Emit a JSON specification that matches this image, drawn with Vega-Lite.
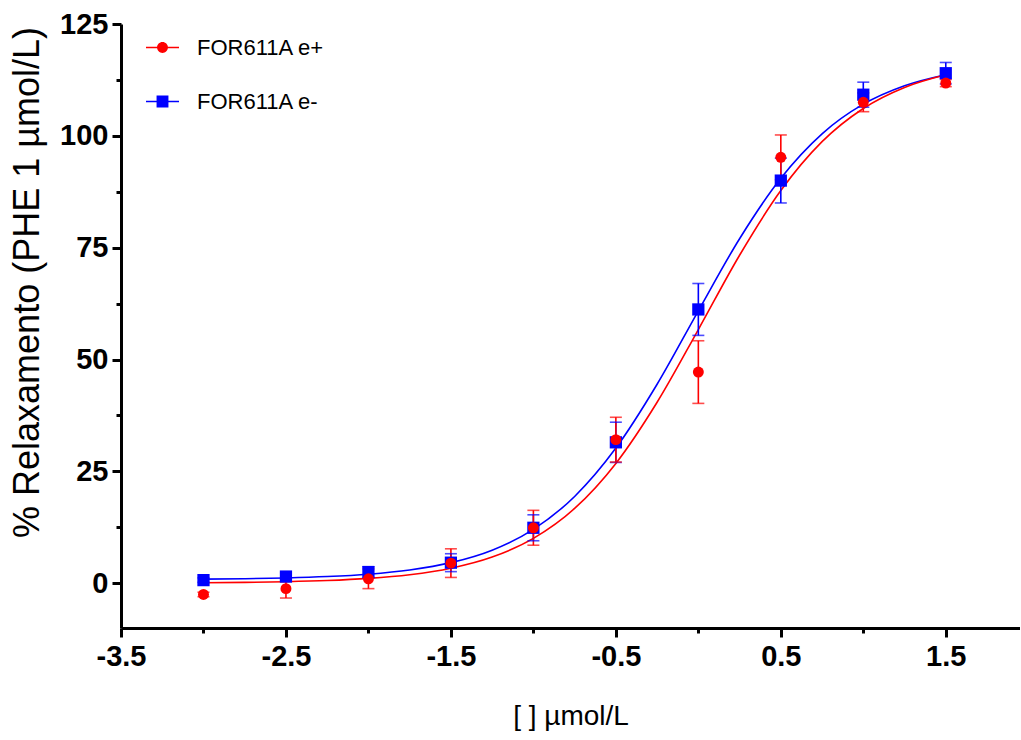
{
  "$schema": "https://vega.github.io/schema/vega-lite/v6.json",
  "autosize": {"type": "none"},
  "padding": {"left": 121, "top": 24, "right": 0, "bottom": 112},
  "width": 899,
  "height": 604,
  "background": "white",
  "config": {
    "view": {"stroke": null},
    "font": "Liberation Sans"
  },
  "datasets": {
    "obs": [
      {"series": "FOR611A e-", "x": -3.0, "y": 0.7, "lo": 0.2, "hi": 1.2},
      {"series": "FOR611A e-", "x": -2.5, "y": 1.5, "lo": 0.7, "hi": 2.3},
      {"series": "FOR611A e-", "x": -2.0, "y": 2.5, "lo": 1.3, "hi": 3.7},
      {"series": "FOR611A e-", "x": -1.5, "y": 4.6, "lo": 2.6, "hi": 6.6},
      {"series": "FOR611A e-", "x": -1.0, "y": 12.4, "lo": 9.5, "hi": 15.3},
      {"series": "FOR611A e-", "x": -0.5, "y": 31.5, "lo": 27.0, "hi": 36.0},
      {"series": "FOR611A e-", "x": 0.0, "y": 61.2, "lo": 55.4, "hi": 67.0},
      {"series": "FOR611A e-", "x": 0.5, "y": 90.0, "lo": 85.0, "hi": 95.0},
      {"series": "FOR611A e-", "x": 1.0, "y": 109.2, "lo": 106.4, "hi": 112.0},
      {"series": "FOR611A e-", "x": 1.5, "y": 114.0, "lo": 111.6, "hi": 116.4},
      {"series": "FOR611A e+", "x": -3.0, "y": -2.5, "lo": -3.0, "hi": -2.0},
      {"series": "FOR611A e+", "x": -2.5, "y": -1.2, "lo": -3.3, "hi": 0.9},
      {"series": "FOR611A e+", "x": -2.0, "y": 1.0, "lo": -1.2, "hi": 3.2},
      {"series": "FOR611A e+", "x": -1.5, "y": 4.5, "lo": 1.3, "hi": 7.7},
      {"series": "FOR611A e+", "x": -1.0, "y": 12.4, "lo": 8.5, "hi": 16.3},
      {"series": "FOR611A e+", "x": -0.5, "y": 32.1, "lo": 27.1, "hi": 37.1},
      {"series": "FOR611A e+", "x": 0.0, "y": 47.2, "lo": 40.2, "hi": 54.2},
      {"series": "FOR611A e+", "x": 0.5, "y": 95.2, "lo": 90.2, "hi": 100.2},
      {"series": "FOR611A e+", "x": 1.0, "y": 107.5, "lo": 105.4, "hi": 109.6},
      {"series": "FOR611A e+", "x": 1.5, "y": 111.8, "lo": 111.0, "hi": 112.6}
    ],
    "fit": [
      {"series": "FOR611A e-", "x": -3.0, "y": 0.92},
      {"series": "FOR611A e-", "x": -2.75, "y": 1.02},
      {"series": "FOR611A e-", "x": -2.5, "y": 1.19},
      {"series": "FOR611A e-", "x": -2.25, "y": 1.5},
      {"series": "FOR611A e-", "x": -2.0, "y": 2.03},
      {"series": "FOR611A e-", "x": -1.75, "y": 2.97},
      {"series": "FOR611A e-", "x": -1.5, "y": 4.61},
      {"series": "FOR611A e-", "x": -1.25, "y": 7.4},
      {"series": "FOR611A e-", "x": -1.0, "y": 12.05},
      {"series": "FOR611A e-", "x": -0.75, "y": 19.4},
      {"series": "FOR611A e-", "x": -0.5, "y": 30.21},
      {"series": "FOR611A e-", "x": -0.25, "y": 44.48},
      {"series": "FOR611A e-", "x": 0.0, "y": 60.9},
      {"series": "FOR611A e-", "x": 0.25, "y": 77.01},
      {"series": "FOR611A e-", "x": 0.5, "y": 90.52},
      {"series": "FOR611A e-", "x": 0.75, "y": 100.46},
      {"series": "FOR611A e-", "x": 1.0, "y": 107.08},
      {"series": "FOR611A e-", "x": 1.25, "y": 111.21},
      {"series": "FOR611A e-", "x": 1.5, "y": 113.67},
      {"series": "FOR611A e+", "x": -3.0, "y": 0.11},
      {"series": "FOR611A e+", "x": -2.75, "y": 0.2},
      {"series": "FOR611A e+", "x": -2.5, "y": 0.35},
      {"series": "FOR611A e+", "x": -2.25, "y": 0.61},
      {"series": "FOR611A e+", "x": -2.0, "y": 1.09},
      {"series": "FOR611A e+", "x": -1.75, "y": 1.92},
      {"series": "FOR611A e+", "x": -1.5, "y": 3.37},
      {"series": "FOR611A e+", "x": -1.25, "y": 5.86},
      {"series": "FOR611A e+", "x": -1.0, "y": 10.03},
      {"series": "FOR611A e+", "x": -0.75, "y": 16.72},
      {"series": "FOR611A e+", "x": -0.5, "y": 26.78},
      {"series": "FOR611A e+", "x": -0.25, "y": 40.45},
      {"series": "FOR611A e+", "x": 0.0, "y": 56.71},
      {"series": "FOR611A e+", "x": 0.25, "y": 73.32},
      {"series": "FOR611A e+", "x": 0.5, "y": 87.77},
      {"series": "FOR611A e+", "x": 0.75, "y": 98.7},
      {"series": "FOR611A e+", "x": 1.0, "y": 106.12},
      {"series": "FOR611A e+", "x": 1.25, "y": 110.82},
      {"series": "FOR611A e+", "x": 1.5, "y": 113.65}
    ]
  },
  "encoding": {
    "x": {
      "field": "x",
      "type": "quantitative",
      "scale": {"domain": [-3.5, 1.95], "nice": false, "zero": false},
      "axis": {
        "title": "[ ] µmol/L",
        "values": [-3.5, -3, -2.5, -2, -1.5, -1, -0.5, 0, 0.5, 1, 1.5],
        "labelExpr": "((datum.value + 3.5) % 1) === 0 ? replace(format(datum.value, '.1f'), '\u2212', '-') : ''",
        "grid": false,
        "domainColor": "black",
        "domainWidth": 3,
        "tickColor": "black",
        "tickWidth": 3,
        "tickSize": {"condition": {"test": "((datum.value + 3.5) % 1) === 0", "value": 9}, "value": 5},
        "labelFont": "Liberation Sans",
        "labelFontSize": 29,
        "labelFontWeight": "bold",
        "labelColor": "black",
        "labelPadding": 5,
        "labelFlush": false,
        "labelOverlap": false,
        "titleFont": "Liberation Sans",
        "titleFontSize": 28,
        "titleFontWeight": "normal",
        "titleColor": "black",
        "titlePadding": 31
      }
    },
    "y": {
      "field": "y",
      "type": "quantitative",
      "scale": {"domain": [-10, 125], "nice": false, "zero": false},
      "axis": {
        "title": "% Relaxamento (PHE 1 µmol/L)",
        "values": [0, 12.5, 25, 37.5, 50, 62.5, 75, 87.5, 100, 112.5, 125],
        "labelExpr": "(datum.value % 25) === 0 ? datum.label : ''",
        "grid": false,
        "domainColor": "black",
        "domainWidth": 3,
        "tickColor": "black",
        "tickWidth": 3,
        "tickSize": {"condition": {"test": "(datum.value % 25) === 0", "value": 9}, "value": 5},
        "labelFont": "Liberation Sans",
        "labelFontSize": 29,
        "labelFontWeight": "bold",
        "labelColor": "black",
        "labelPadding": 4,
        "labelFlush": false,
        "labelOverlap": false,
        "titleFont": "Liberation Sans",
        "titleFontSize": 36,
        "titleFontWeight": "normal",
        "titleColor": "black",
        "titleX": -94,
        "titleY": 258,
        "titleAngle": -90,
        "titleAlign": "center",
        "titleBaseline": "middle"
      }
    }
  },
  "layer": [
    {
      "data": {"name": "obs"},
      "mark": {"type": "point", "filled": true, "opacity": 0},
      "encoding": {
        "shape": {
          "field": "series",
          "type": "nominal",
          "scale": {
            "domain": ["FOR611A e+", "FOR611A e-"],
            "range": [
              "M-1,-0.05L1,-0.05L1,0.05L-1,0.05ZM-0.33,0A0.33,0.33 0 1,1 0.33,0A0.33,0.33 0 1,1 -0.33,0Z",
              "M-1,-0.05L1,-0.05L1,0.05L-1,0.05ZM-0.36,-0.36L0.36,-0.36L0.36,0.36L-0.36,0.36Z"
            ]
          },
          "legend": {
            "title": null,
            "orient": "none",
            "legendX": 24,
            "legendY": 6,
            "padding": 0,
            "rowPadding": 25,
            "labelOffset": 17,
            "labelFont": "Liberation Sans",
            "labelFontSize": 22,
            "labelColor": "black",
            "labelLimit": 400,
            "symbolSize": 1089,
            "symbolOpacity": 1
          }
        },
        "color": {
          "field": "series",
          "type": "nominal",
          "scale": {"domain": ["FOR611A e+", "FOR611A e-"], "range": ["#ff0000", "#0000ff"]},
          "legend": {
            "title": null,
            "orient": "none",
            "legendX": 24,
            "legendY": 6,
            "padding": 0,
            "rowPadding": 25,
            "labelOffset": 17,
            "labelFont": "Liberation Sans",
            "labelFontSize": 22,
            "labelColor": "black",
            "labelLimit": 400,
            "symbolSize": 1089,
            "symbolOpacity": 1
          }
        }
      }
    },
    {
      "data": {"name": "fit"},
      "mark": {"type": "line", "strokeWidth": 1.6, "interpolate": "monotone"},
      "encoding": {
        "detail": {"field": "series"},
        "stroke": {"field": "series", "type": "nominal", "scale": {"range": ["#ff0000", "#0000ff"]}, "legend": null}
      }
    },
    {
      "data": {"name": "obs"},
      "mark": {"type": "rule", "strokeWidth": 1.6},
      "encoding": {
        "y": {"field": "lo", "type": "quantitative"},
        "y2": {"field": "hi"},
        "stroke": {"field": "series", "type": "nominal", "legend": null}
      }
    },
    {
      "data": {"name": "obs"},
      "mark": {"type": "tick", "orient": "horizontal", "size": 12, "thickness": 1.6},
      "encoding": {
        "y": {"field": "hi", "type": "quantitative"},
        "fill": {"field": "series", "type": "nominal", "legend": null, "scale": {"range": ["#ff0000", "#0000ff"]}}
      }
    },
    {
      "data": {"name": "obs"},
      "mark": {"type": "tick", "orient": "horizontal", "size": 12, "thickness": 1.6},
      "encoding": {
        "y": {"field": "lo", "type": "quantitative"},
        "fill": {"field": "series", "type": "nominal", "legend": null}
      }
    },
    {
      "data": {"name": "obs"},
      "transform": [{"filter": "datum.series === 'FOR611A e-'"}],
      "mark": {"type": "square", "opacity": 1, "size": 150},
      "encoding": {
        "fill": {"field": "series", "type": "nominal", "legend": null}
      }
    },
    {
      "data": {"name": "obs"},
      "transform": [{"filter": "datum.series === 'FOR611A e+'"}],
      "mark": {"type": "circle", "opacity": 1, "size": 120},
      "encoding": {
        "fill": {"field": "series", "type": "nominal", "legend": null}
      }
    }
  ]
}
